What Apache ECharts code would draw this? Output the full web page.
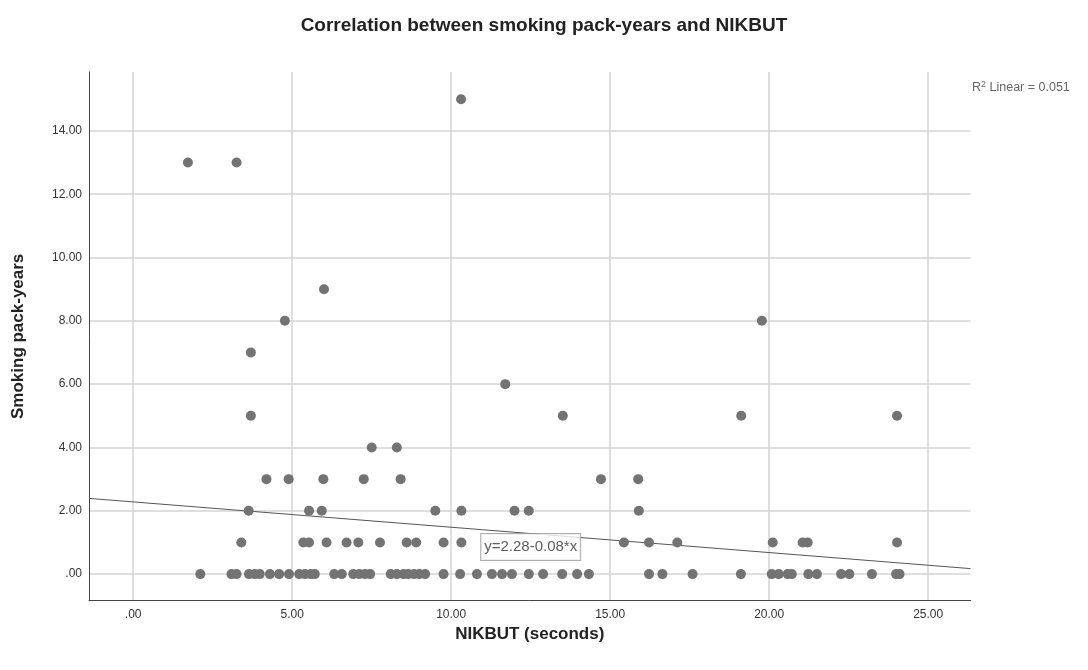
<!DOCTYPE html>
<html>
<head>
<meta charset="utf-8">
<script src="https://cdn.jsdelivr.net/npm/echarts@6/dist/echarts.min.js"></script>
<style>
  html, body { margin: 0; padding: 0; background: #fff; }
  #chart { width: 1088px; height: 670px; }
</style>
</head>
<body>
<div id="chart"></div>
<script>
// NIKBUT (seconds) against smoking pack-years, grouped by pack-year value
const packYears0 = [2.11, 3.09, 3.25, 3.64, 3.82, 3.98, 4.30, 4.59, 4.90, 5.22, 5.40, 5.58, 5.71,
  6.32, 6.56, 6.92, 7.11, 7.29, 7.45, 8.10, 8.29, 8.50, 8.65, 8.83, 9.00, 9.18, 9.76, 10.28,
  10.81, 11.28, 11.60, 11.91, 12.44, 12.89, 13.49, 13.96, 14.33, 16.22, 16.64, 17.59, 19.11,
  20.08, 20.30, 20.58, 20.71, 21.23, 21.50, 22.26, 22.52, 23.23, 23.99, 24.10];
const packYears1 = [3.40, 5.35, 5.53, 6.08, 6.71, 7.08, 7.76, 8.60, 8.90, 9.76, 10.32, 15.43,
  16.22, 17.11, 20.11, 21.05, 21.21, 24.02];
const packYears2 = [3.63, 5.53, 5.93, 9.50, 10.32, 11.99, 12.44, 15.90];
const packYears3 = [4.19, 4.89, 5.98, 7.25, 8.41, 14.71, 15.88];
const packYears4 = [7.50, 8.29];
const packYears5 = [3.70, 13.51, 19.12, 24.02];
const packYears6 = [11.70];
const packYears7 = [3.70];
const packYears8 = [4.77, 19.77];
const packYears9 = [6.00];
const packYears13 = [1.72, 3.25];
const packYears15 = [10.31];

const groups = [
  [0, packYears0], [1, packYears1], [2, packYears2], [3, packYears3], [4, packYears4],
  [5, packYears5], [6, packYears6], [7, packYears7], [8, packYears8], [9, packYears9],
  [13, packYears13], [15, packYears15]
];

// Linear fit
const intercept = 2.28;
const slope = -0.08;
const rSquared = 0.051;
const fitLabelAt = [12.5, 0.86];

// Axis ranges and tick values
const xMin = -1.39, xMax = 26.33;
const yMin = -0.84, yMax = 15.86;
const xTicks = [0, 5, 10, 15, 20, 25];
const yTicks = [0, 2, 4, 6, 8, 10, 12, 14];

const points = [];
groups.forEach(([py, xs]) => xs.forEach(x => points.push([x, py])));

const fitLine = [xMin, xMax].map(x => [x, intercept + slope * x]);

const fmt = v => {
  const s = Number(v).toFixed(2);
  return s.startsWith('0') ? s.slice(1) : s;
};

const FONT = 'Liberation Sans, Arial, sans-serif';
const gridLine = { show: true, lineStyle: { color: '#d4d4d4', width: 1.5 } };

const chart = echarts.init(document.getElementById('chart'), null, { renderer: 'canvas' });
chart.setOption({
  animation: false,
  backgroundColor: '#ffffff',
  title: [
    {
      text: 'Correlation between smoking pack-years and NIKBUT',
      left: 'center',
      top: 11,
      textStyle: { fontFamily: FONT, fontSize: 19, fontWeight: 'bold', color: '#222' }
    },
    {
      text: '{r|R}{sup|2}{r| Linear = ' + rSquared.toFixed(3) + '}',
      left: 972,
      top: 80,
      padding: 0,
      textStyle: {
        fontWeight: 'normal',
        rich: {
          r: { fontFamily: FONT, fontSize: 12.5, fontWeight: 'normal', color: '#666' },
          sup: { fontFamily: FONT, fontSize: 9, fontWeight: 'normal', color: '#666', verticalAlign: 'top', padding: [0, 0, 6, 0] }
        }
      }
    }
  ],
  grid: { left: 89, right: 117.5, top: 72, bottom: 69.3, containLabel: false },
  xAxis: {
    type: 'value',
    min: xMin,
    max: xMax,
    name: 'NIKBUT (seconds)',
    nameLocation: 'middle',
    nameGap: 23,
    nameTextStyle: { fontFamily: FONT, fontSize: 17, fontWeight: 'bold', color: '#222', verticalAlign: 'top' },
    axisLine: { show: true, onZero: false, lineStyle: { color: '#444', width: 1 } },
    axisTick: { show: false, customValues: xTicks },
    axisLabel: { customValues: xTicks, formatter: fmt, fontFamily: FONT, fontSize: 12, color: '#333', margin: 8 },
    splitLine: gridLine
  },
  yAxis: {
    type: 'value',
    min: yMin,
    max: yMax,
    name: 'Smoking pack-years',
    nameLocation: 'middle',
    nameGap: 62,
    nameTextStyle: { fontFamily: FONT, fontSize: 17, fontWeight: 'bold', color: '#222' },
    axisLine: { show: true, onZero: false, lineStyle: { color: '#444', width: 1 } },
    axisTick: { show: false, customValues: yTicks },
    axisLabel: { customValues: yTicks, formatter: fmt, fontFamily: FONT, fontSize: 12, color: '#333', margin: 7 },
    splitLine: gridLine
  },
  series: [
    {
      type: 'line',
      data: fitLine,
      symbol: 'none',
      lineStyle: { color: '#555', width: 1 },
      silent: true,
      z: 3
    },
    {
      type: 'scatter',
      data: points,
      symbol: 'circle',
      symbolSize: 10,
      itemStyle: { color: '#737373', opacity: 1 },
      z: 4
    },
    {
      type: 'scatter',
      data: [fitLabelAt],
      symbolSize: 0,
      silent: true,
      z: 5,
      label: {
        show: true,
        position: 'inside',
        formatter: 'y=' + intercept.toFixed(2) + '-' + Math.abs(slope).toFixed(2) + '*x',
        fontFamily: FONT,
        fontSize: 15,
        color: '#333',
        backgroundColor: '#fff',
        borderColor: '#999',
        borderWidth: 1,
        padding: [6, 3, 5, 3]
      }
    }
  ]
});
</script>
</body>
</html>
